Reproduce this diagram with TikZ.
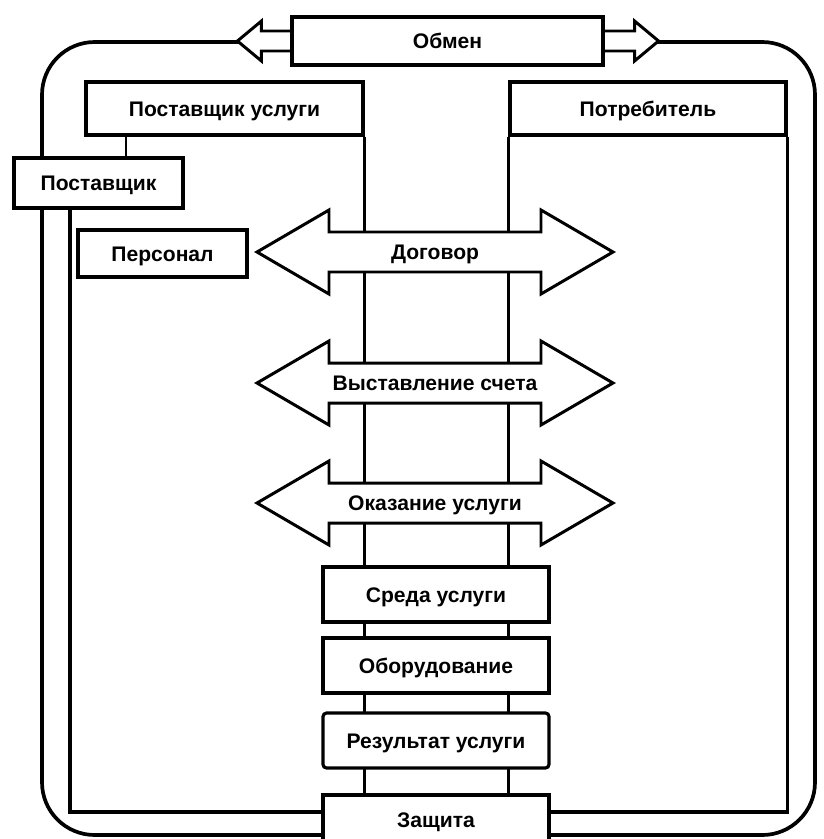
\documentclass[tikz,border=0pt]{standalone}
\usepackage{fontspec}
\setmainfont{Liberation Sans}
\usetikzlibrary{calc,backgrounds}

\tikzset{
	box/.style={draw, fill=white, line width=1.8pt, inner sep=0pt,
		text height=8.6pt, text depth=0pt,
		font=\bfseries\fontsize{12}{14}\selectfont},
	frameline/.style={line width=2.1pt},
	columnline/.style={line width=1.3pt},
	blockarrow/.style={draw, fill=white, line width=1.7pt, line join=miter},
	arrowtext/.style={text height=8.6pt, text depth=0pt,
		font=\bfseries\fontsize{12}{14}\selectfont}
}

\begin{document}
\begin{tikzpicture}[x=0.02cm, y=-0.02cm]
	\useasboundingbox (0,0) rectangle (824,839);

	% Boxes
	\node[box, minimum width=6.22cm, minimum height=0.96cm] (obmen) at (447.5,41) {Обмен};
	\node[box, minimum width=5.54cm, minimum height=1.06cm] (postusl) at (224.5,108.5) {Поставщик услуги};
	\node[box, minimum width=5.52cm, minimum height=1.06cm] (potreb) at (648,108.5) {Потребитель};
	\node[box, minimum width=3.38cm, minimum height=1.0cm] (postav) at (98.5,183) {Поставщик};
	\node[box, minimum width=3.38cm, minimum height=0.94cm] (personal) at (162.5,253.5) {Персонал};
	\node[box, minimum width=4.52cm, minimum height=1.1cm] (sreda) at (436,594.5) {Среда услуги};
	\node[box, minimum width=4.52cm, minimum height=1.1cm] (oborud) at (436,665.5) {Оборудование};
	\node[box, minimum width=4.52cm, minimum height=1.1cm, rounded corners=2pt] (rezult) at (436,740.5) {Результат услуги};
	\node[box, minimum width=4.52cm, minimum height=1.0cm] (zashita) at (436,820) {Защита};

	% Helper coordinates
	\coordinate (base) at (0,812);
	\coordinate (inleft) at (70,0);
	\coordinate (link) at (126,0);

	\begin{pgfonlayer}{background}
		% Outer frame
		\draw[frameline, rounded corners=30] (42,42) rectangle (815,835);

		% Inner frame
		\draw[frameline] (postav.south -| inleft) -- (inleft |- base) -- (zashita.west |- base);
		\draw[frameline] (potreb.south east) -- (potreb.south east |- base) -- (zashita.east |- base);

		% Link between the two supplier boxes
		\draw[columnline] (postusl.south -| link) -- (postav.north -| link);

		% Central column
		\draw[columnline] (postusl.south east) -- (postusl.south east |- zashita.north);
		\draw[columnline] (potreb.south west) -- (potreb.south west |- zashita.north);

		% Exchange arrows
		\draw[blockarrow] ($(obmen.west)+(0,-10)$) -- ++(-29,0) -- ++(0,-10) -- ++(-24,20)
			-- ++(24,20) -- ++(0,-10) -- ++(29,0);
		\draw[blockarrow] ($(obmen.east)+(0,-10)$) -- ++(30,0) -- ++(0,-10) -- ++(24,20)
			-- ++(-24,20) -- ++(0,-10) -- ++(-30,0);
	\end{pgfonlayer}

	% Double block arrows
	\coordinate (dog) at (435,252);
	\coordinate (schet) at (435,383);
	\coordinate (okaz) at (435,503);

	\draw[blockarrow] ($(dog)+(-178,0)$) -- ++(72,-42) -- ++(0,22) -- ++(212,0) -- ++(0,-22)
		-- ++(72,42) -- ++(-72,42) -- ++(0,-22) -- ++(-212,0) -- ++(0,22) -- cycle;
	\draw[blockarrow] ($(schet)+(-178,0)$) -- ++(72,-42) -- ++(0,22) -- ++(212,0) -- ++(0,-22)
		-- ++(72,42) -- ++(-72,42) -- ++(0,-22) -- ++(-212,0) -- ++(0,22) -- cycle;
	\draw[blockarrow] ($(okaz)+(-178,0)$) -- ++(72,-42) -- ++(0,22) -- ++(212,0) -- ++(0,-22)
		-- ++(72,42) -- ++(-72,42) -- ++(0,-22) -- ++(-212,0) -- ++(0,22) -- cycle;

	% Arrow labels
	\node[arrowtext] (dogtext) at (dog) {Договор};
	\node[arrowtext] (schettext) at (schet) {Выставление счета};
	\node[arrowtext] (okaztext) at (okaz) {Оказание услуги};
\end{tikzpicture}
\end{document}
